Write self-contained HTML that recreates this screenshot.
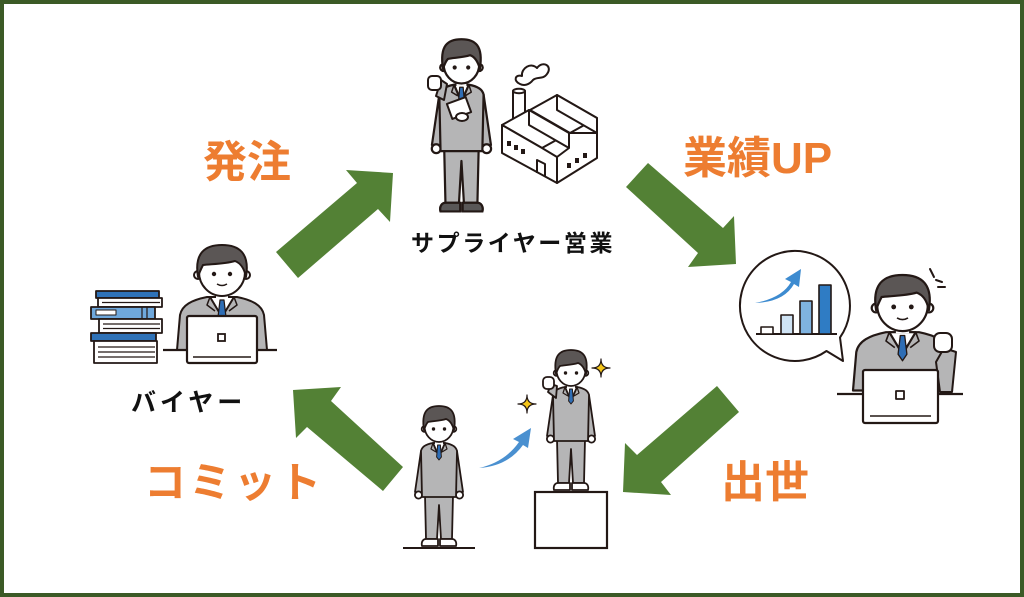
<!DOCTYPE html>
<html><head><meta charset="utf-8">
<style>
html,body{margin:0;padding:0;background:#fff}
svg{display:block}
.o{font-family:"Liberation Sans","Noto Sans CJK JP",sans-serif;font-weight:700;fill:#ed7d31}
.k{font-family:"Liberation Sans","Noto Sans CJK JP",sans-serif;font-weight:700;fill:#111}
</style></head>
<body>
<svg width="1024" height="597" viewBox="0 0 1024 597" xmlns="http://www.w3.org/2000/svg">
<defs>
 <g id="sp" stroke="#231815" stroke-width="1.8" stroke-linejoin="round">
  <path d="M10,46 L4,87 L11,88 L15,58 Z" fill="#b5b5b6"/>
  <path d="M46,46 L52,87 L45,88 L41,58 Z" fill="#b5b5b6"/>
  <circle cx="7.5" cy="90" r="3.6" fill="#fff"/>
  <circle cx="48.5" cy="90" r="3.6" fill="#fff"/>
  <path d="M14,90 L42,90 L41,134 L30,134 L28,100 L26,134 L15,134 Z" fill="#b5b5b6"/>
  <path d="M10,46 C11,41 16,39 22,38 L34,38 C40,39 45,41 46,46 L45,92 L11,92 Z" fill="#b5b5b6"/>
  <path d="M22,38 L28,52 L34,38 Z" fill="#fff"/>
  <path d="M26.6,40 L29.4,40 L30.4,52 L28,55 L25.6,52 Z" fill="#2e6db4" stroke-width="1"/>
  <path d="M22,38 L20,44 L25,47 M34,38 L36,44 L31,47" fill="none" stroke-width="1.2"/>
  <rect x="24" y="33" width="8" height="6" fill="#fff" stroke="none"/>
  <circle cx="13.5" cy="24" r="2.8" fill="#fff"/>
  <circle cx="42.5" cy="24" r="2.8" fill="#fff"/>
  <ellipse cx="28" cy="21" rx="14.5" ry="16" fill="#fff"/>
  <path d="M13,25 C10,6 17,1 28,1 C39,1 46,6 43,25 C41,18 38,15 35,14 C29,16 21,16 17,17 C15,19 14,22 13,25 Z" fill="#5b5655"/>
  <circle cx="22.5" cy="24" r="1.7" fill="#231815" stroke="none"/>
  <circle cx="33.5" cy="24" r="1.7" fill="#231815" stroke="none"/>
  <path d="M15,134 L27,134 L27,141 L11,141 C10,137 12,134 15,134 Z" fill="#fff"/>
  <path d="M41,134 L29,134 L29,141 L45,141 C46,137 44,134 41,134 Z" fill="#fff"/>
 </g>
 <g id="seat" stroke="#231815" stroke-width="2" stroke-linejoin="round">
  <path d="M0,105 L3,70 C5,60 15,55 30,52 L60,52 C75,55 85,60 87,70 L90,105 Z" fill="#b5b5b6"/>
  <path d="M33,52 L45,72 L57,52 Z" fill="#fff"/>
  <path d="M43,55 L47,55 L49,72 L45,78 L41,72 Z" fill="#2e6db4" stroke-width="1.2"/>
  <path d="M33,52 L30,60 L38,66 M57,52 L60,60 L52,66" fill="none" stroke-width="1.5"/>
  <rect x="39" y="44" width="12" height="9" fill="#fff" stroke="none"/>
  <circle cx="21" cy="30" r="4" fill="#fff"/>
  <circle cx="69" cy="30" r="4" fill="#fff"/>
  <ellipse cx="45" cy="27" rx="23" ry="24" fill="#fff"/>
  <path d="M21,32 C17,8 28,0 45,0 C62,0 73,8 69,32 C67,22 63,18 58,16 C48,19 34,19 26,20 C24,24 22,28 21,32 Z" fill="#5b5655"/>
  <circle cx="37" cy="29" r="2.2" fill="#231815" stroke="none"/>
  <circle cx="53" cy="29" r="2.2" fill="#231815" stroke="none"/>
  <path d="M40,39 Q45,42 50,39" fill="none" stroke-width="1.5"/>
 </g>
</defs>

<rect x="0" y="0" width="1024" height="597" fill="#fff"/>
<rect x="2" y="2" width="1020" height="593" fill="none" stroke="#3b5a26" stroke-width="4"/>

<!-- green arrows -->
<g fill="#538135">
 <polygon points="393,173 346,170 357,183 276,252 298,278 378,209 390,222"/>
 <polygon points="648,163 723,228 734,216 736,264 688,267 698,253 626,187"/>
 <polygon points="717,386 637,455 625,443 623,492 671,495 661,482 739,412"/>
 <polygon points="293,390 341,387 331,401 403,467 383,491 307,427 296,438"/>
</g>

<!-- labels -->
<text class="o" x="203" y="177" font-size="44">発注</text>
<text class="o" x="683" y="173" font-size="44">業績<tspan font-family="Liberation Sans">UP</tspan></text>
<text class="o" x="144 189 234 279" y="497" font-size="42">コミット</text>
<text class="o" x="721" y="497" font-size="44">出世</text>
<text class="k" x="411" y="251" font-size="23" letter-spacing="2.6">サプライヤー営業</text>
<text class="k" x="131" y="411" font-size="25" letter-spacing="4">バイヤー</text>

<!-- supplier -->
<g transform="translate(427,38) scale(1.23)">
 <use href="#sp"/>
 <g stroke="#231815" stroke-width="1.8" fill="#595757">
  <path d="M15,134 L27,134 L27,141 L11,141 C10,137 12,134 15,134 Z"/>
  <path d="M41,134 L29,134 L29,141 L45,141 C46,137 44,134 41,134 Z"/>
 </g>
</g>
<g stroke="#231815" stroke-width="2" stroke-linejoin="round">
 <path d="M436,96 L441,80 L447,84 L444,100 Z" fill="#b5b5b6"/>
 <rect x="428" y="76" width="13" height="14" rx="4" fill="#fff"/>
 <rect x="449" y="100" width="20" height="16" fill="#fff" transform="rotate(-20 459 108)"/>
 <ellipse cx="462" cy="117" rx="6" ry="4" fill="#fff"/>
</g>

<!-- factory -->
<g stroke="#231815" stroke-width="2" fill="#fff" stroke-linejoin="round">
 <path d="M513,91 L513,120 L525,120 L525,91 Z"/>
 <ellipse cx="519" cy="91" rx="6" ry="2.2"/>
 <path d="M520,84 C513,81 515,74 522,76 C521,68 531,62 537,68 C543,60 553,66 547,74 C543,80 537,76 533,80 C529,85 524,86 520,84 Z" fill="#fff"/>
 <!-- back tooth -->
 <polygon points="530,110 557,95 597,118 570,133"/>
 <polygon points="557,95 557,110 597,133 597,118"/>
 <!-- front tooth -->
 <polygon points="502,125 529,110 569,133 542,148"/>
 <polygon points="529,110 529,125 569,148 569,133"/>
 <!-- left wall -->
 <polygon points="502,125 542,148 557,157 557,183 502,153"/>
 <!-- right wall -->
 <polygon points="557,157 569,148 569,133 597,133 597,158 557,183"/>
 <g fill="#231815" stroke="none">
  <rect x="507" y="141" width="4" height="5"/>
  <rect x="514" y="145" width="4" height="5"/>
  <rect x="521" y="149" width="4" height="5"/>
  <rect x="567" y="163" width="4" height="5"/>
  <rect x="575" y="158" width="4" height="5"/>
  <rect x="583" y="153" width="4" height="5"/>
 </g>
 <path d="M537,173 L537,160 L545,164 L545,177" fill="none"/>
</g>

<!-- buyer -->
<g stroke="#231815" stroke-width="1.8" stroke-linejoin="round">
 <rect x="96" y="291" width="63" height="7" fill="#2f72b8"/>
 <rect x="98" y="298" width="64" height="9" fill="#fff"/>
 <path d="M102,302.5 L160,302.5" stroke-width="1.2"/>
 <rect x="91" y="307" width="64" height="12" fill="#6fa8dc"/>
 <rect x="96" y="310" width="20" height="5" fill="#fff" stroke-width="1"/>
 <path d="M142,307 L142,319 M147,307 L147,319" stroke-width="1.2"/>
 <rect x="99" y="319" width="63" height="14" fill="#fff"/>
 <path d="M103,324 L160,324 M103,328.5 L160,328.5" stroke-width="1.2"/>
 <rect x="91" y="333" width="65" height="8" fill="#2f72b8"/>
 <rect x="94" y="341" width="63" height="22" fill="#fff"/>
 <path d="M98,347 L155,347 M98,352 L155,352 M98,357 L155,357" stroke-width="1.2"/>
</g>
<use href="#seat" transform="translate(177,245)"/>
<g stroke="#231815" stroke-width="2.2">
 <path d="M163,350 L277,350"/>
 <rect x="187" y="316" width="70" height="47" rx="2" fill="#fff"/>
 <rect x="218" y="334" width="7" height="7" fill="#fff" stroke-width="1.8"/>
 <path d="M193,357 L251,357" stroke-width="1.6"/>
</g>

<!-- right man with chart -->
<g stroke="#231815" stroke-width="2" stroke-linejoin="round">
 <path d="M840,337.5 L843,361 L826.5,351 A55,55 0 1 1 840,337.5 Z" fill="#fff"/>
 <path d="M756,334 L837,334"/>
 <rect x="761" y="327" width="12" height="7" fill="#fff" stroke-width="1.6"/>
 <rect x="781" y="315" width="12" height="19" fill="#cfe3f4" stroke-width="1.6"/>
 <rect x="800" y="301" width="12" height="33" fill="#7fb3e0" stroke-width="1.6"/>
 <rect x="819" y="285" width="12" height="49" fill="#2f7cc4" stroke-width="1.6"/>
</g>
<path d="M755,303 Q782,298 791,282 L785,279 L801,269 L799,287 L794,284 Q784,302 755,303 Z" fill="#3d8bd0"/>
<use href="#seat" transform="translate(853,275) scale(1.1,1.1)"/>
<g stroke="#231815" stroke-width="2" stroke-linejoin="round">
 <path d="M936,362 L944,348 L956,352 L952,392 L940,392 Z" fill="#b5b5b6"/>
 <rect x="934" y="333" width="18" height="19" rx="6" fill="#fff"/>
 <path d="M930,269 L934,277 M936,280 L942,282 M938,287 L945,287" fill="none" stroke-linecap="round"/>
 <path d="M837,394 L963,394" stroke-width="2.2"/>
 <rect x="863" y="370" width="75" height="53" rx="2" fill="#fff" stroke-width="2.2"/>
 <rect x="896" y="391" width="8" height="8" fill="#fff" stroke-width="1.8"/>
 <path d="M870,416 L931,416" stroke-width="1.6"/>
</g>

<!-- bottom people -->
<path d="M403,548 L475,548" stroke="#231815" stroke-width="2"/>
<use href="#sp" transform="translate(411,405)"/>
<path d="M479,468 Q505,462 519,442 L513,439 L531,428 L528,448 L523,445 Q508,466 479,468 Z" fill="#4a90d0"/>
<rect x="535" y="492" width="72" height="56" fill="#fff" stroke="#231815" stroke-width="2.2"/>
<use href="#sp" transform="translate(543,349)"/>
<g stroke="#231815" stroke-width="1.8" stroke-linejoin="round">
 <path d="M548,392 L551,384 L557,386 L556,398 Z" fill="#b5b5b6"/>
 <rect x="543" y="377" width="11" height="12" rx="4" fill="#fff"/>
 <path d="M601,359 Q601,368 610,368 Q601,368 601,377 Q601,368 592,368 Q601,368 601,359 Z" fill="#f5c518" stroke-width="1.2"/>
 <path d="M527,395 Q527,404 536,404 Q527,404 527,413 Q527,404 518,404 Q527,404 527,395 Z" fill="#f5c518" stroke-width="1.2"/>
</g>
</svg>
</body></html>
